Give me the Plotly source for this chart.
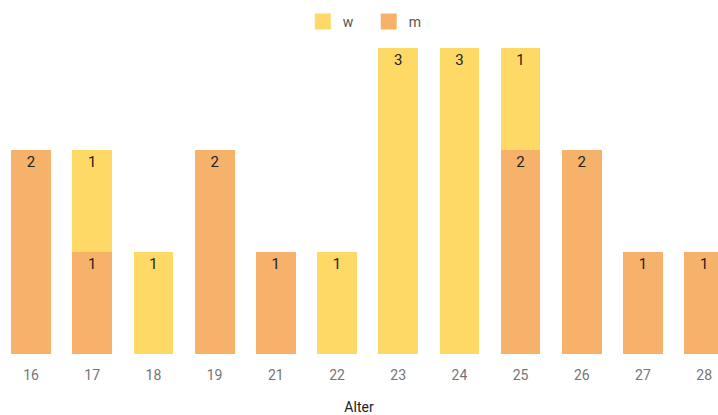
import plotly.graph_objects as go

ages = ["16", "17", "18", "19", "21", "22", "23", "24", "25", "26", "27", "28"]
m_vals = [2, 1, 0, 2, 1, 0, 0, 0, 2, 2, 1, 1]
w_vals = [0, 1, 1, 0, 0, 1, 3, 3, 1, 0, 0, 0]
series_names = ["w", "m"]

col_w = "#FFD966"
col_m = "#F6B26B"

def labels(vals):
    return [str(v) if v else "" for v in vals]

fig = go.Figure()
fig.add_trace(go.Bar(
    x=ages, y=[v if v else None for v in m_vals], name="m",
    marker=dict(color=col_m, line=dict(width=0), cornerradius=0),
    text=labels(m_vals), textposition="inside", insidetextanchor="end",
    textfont=dict(color="#222222", size=15, family="Roboto"), showlegend=False,
))
fig.add_trace(go.Bar(
    x=ages, y=[v if v else None for v in w_vals], name="w",
    marker=dict(color=col_w, line=dict(width=0), cornerradius=3),
    text=labels(w_vals), textposition="inside", insidetextanchor="end",
    textfont=dict(color="#222222", size=15, family="Roboto"), showlegend=False,
))
# legend entries with square swatches
for nm, col in zip(series_names, [col_w, col_m]):
    fig.add_trace(go.Scatter(
        x=[None], y=[None], mode="markers", name=nm + "   ",
        marker=dict(symbol="square", size=16, color=col), showlegend=True,
    ))

fig.update_layout(
    width=718, height=415,
    barmode="stack", bargap=0.35,
    margin=dict(l=0, r=0, t=48, b=61),
    paper_bgcolor="white", plot_bgcolor="white",
    font=dict(family="Roboto", color="#757575", size=14),
    showlegend=True,
    legend=dict(orientation="h", x=0.515, xanchor="center", y=1 - 22 / 415, yanchor="middle",
                yref="container", traceorder="normal", itemwidth=30,
                font=dict(size=14, color="#555555")),
    xaxis=dict(type="category", range=[-0.507, 11.226], showgrid=False, zeroline=False,
               showline=False, ticks="outside", ticklen=8, tickcolor="rgba(0,0,0,0)",
               automargin=False,
               tickfont=dict(size=14, color="#757575"),
               title=dict(text="Alter", font=dict(size=14, color="#222222"), standoff=27)),
    yaxis=dict(range=[0, 3], visible=False, showgrid=False, zeroline=False, automargin=False),
)
fig.write_html("out.html")
